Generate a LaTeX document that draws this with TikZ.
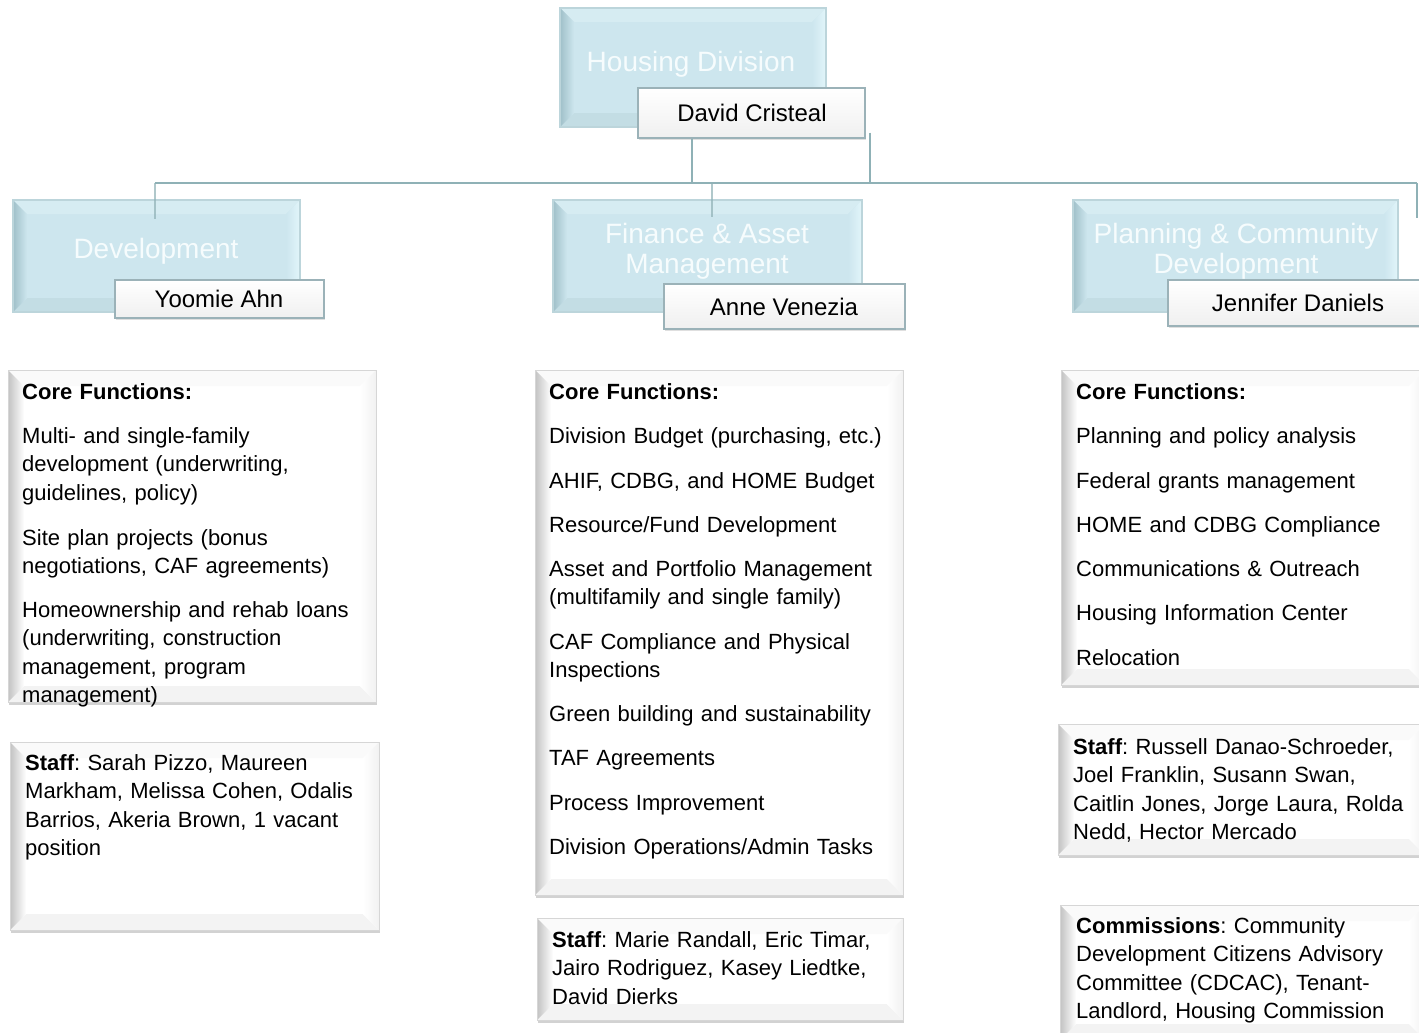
\documentclass[tikz,border=0pt]{standalone}
\usepackage{fontspec}
\setmainfont{Liberation Sans}
\usetikzlibrary{shadows}
\frenchspacing
\definecolor{conn}{HTML}{8FB1B6}
\definecolor{bluefill}{HTML}{CDE6EE}
\definecolor{blueedge}{HTML}{BCD5DB}
\definecolor{bluedark}{HTML}{A0C0C9}
\definecolor{bluetop}{HTML}{D6ECF2}
\definecolor{blueright}{HTML}{E2F5FA}
\definecolor{bluebot}{HTML}{C3DDE4}
\definecolor{namedraw}{HTML}{9BB2B8}
\definecolor{titlecol}{HTML}{F6FCFD}
\definecolor{wleft}{HTML}{C2C2C2}
\definecolor{wtop}{HTML}{FAFAFA}
\definecolor{wright}{HTML}{F1F1F1}
\definecolor{wbot}{HTML}{F3F3F3}
\tikzset{
  bevel/.style n args={6}{path picture={
    \path (path picture bounding box.north west) coordinate (pa)
          (path picture bounding box.north east) coordinate (pb)
          (path picture bounding box.south east) coordinate (pc)
          (path picture bounding box.south west) coordinate (pd);
    \fill[#3] (pa) -- (pb) -- ([shift={(-#6,-#6)}]pb) -- ([shift={(#6,-#6)}]pa) -- cycle;
    \fill[#5] (pd) -- (pc) -- ([shift={(-#6,#6)}]pc) -- ([shift={(#6,#6)}]pd) -- cycle;
    \shade[left color=#1, right color=#2] (pa) -- (pd) -- ([shift={(#6,#6)}]pd) -- ([shift={(#6,-#6)}]pa) -- cycle;
    \shade[left color=#2, right color=#4] (pb) -- (pc) -- ([shift={(-#6,#6)}]pc) -- ([shift={(-#6,-#6)}]pb) -- cycle;
  }},
  bluebox/.style={fill=bluefill, draw=blueedge, line width=2pt, inner sep=0pt,
    bevel={bluedark}{bluefill}{bluetop}{blueright}{bluebot}{14pt}},
  namebox/.style={draw=namedraw, line width=1.2pt, top color=white, bottom color=black!6,
    inner sep=0pt, drop shadow={opacity=0.25, shadow xshift=1pt, shadow yshift=-2pt}},
  whitebox/.style={fill=white, draw=black!16, line width=0.8pt, inner sep=0pt,
    drop shadow={opacity=0.35, shadow xshift=1pt, shadow yshift=-3pt},
    bevel={wleft}{white}{wtop}{wright}{wbot}{16pt}},
  conn/.style={draw=conn, line width=2.4pt},
  titletxt/.style={text=titlecol, align=center, inner sep=0pt, font=\fontsize{28}{30}\selectfont},
  nametxt/.style={text=black, inner sep=0pt, font=\fontsize{24}{28}\selectfont},
  txt/.style={anchor=base west, inner sep=0pt, text width=380pt, align=left,
    font=\fontsize{22}{28.5}\selectfont\frenchspacing},
}
\begin{document}
\begin{tikzpicture}[x=1pt,y=-1pt]
\useasboundingbox (0,0) rectangle (1419,1033);
\fill[white] (0,0) rectangle (1419,1033);

% connector coordinates
\coordinate (hl) at (155,183);
\coordinate (hr) at (1417,183);
\coordinate (j1) at (692,183);
\coordinate (j2) at (712,183);
\coordinate (j3) at (870,183);
\coordinate (r1) at (1417,218);

% top
\node[bluebox, minimum width=266pt, minimum height=119pt] (hd) at (693,67.5) {};
\node[titletxt] (hdT) at (691,64) {Housing Division};
\node[namebox, minimum width=227pt, minimum height=50pt] (dc) at (751.5,113) {};
\node[nametxt] (dcT) at (752,113) {David Cristeal};

% division boxes
\node[bluebox, minimum width=287pt, minimum height=112pt] (dev) at (156.5,256) {};
\node[bluebox, minimum width=309pt, minimum height=112pt] (fin) at (707.5,256) {};
\node[bluebox, minimum width=325pt, minimum height=112pt] (plan) at (1235.5,256) {};

% connectors
\draw[conn] (dc.south -| j1) -- (j1);
\draw[conn] (dc.south -| j3) ++(0,-6) -- (j3);
\draw[conn] (hl) -- (hr);
\draw[conn, draw opacity=0.7] (hl) -- (dev.north -| hl) -- ++(0,20);
\draw[conn, draw opacity=0.7] (j2) -- (fin.north -| j2) -- ++(0,18);
\draw[conn] (hr) -- (r1);

\node[titletxt] (devT) at (156,251) {Development};
\node[titletxt] (finT) at (707,251) {Finance \& Asset\\Management};
\node[titletxt] (planT) at (1236,251) {Planning \& Community\\Development};

\node[namebox, minimum width=209pt, minimum height=38pt] (ya) at (219.5,299) {};
\node[nametxt] (yaT) at (219,299) {Yoomie Ahn};
\node[namebox, minimum width=241pt, minimum height=45pt] (av) at (784.5,306.5) {};
\node[nametxt] (avT) at (784,306.5) {Anne Venezia};
\node[namebox, minimum width=254pt, minimum height=46pt] (jd) at (1295,303) {};
\node[nametxt] (jdT) at (1298,303) {Jennifer Daniels};

% text boxes
\node[whitebox, minimum width=368pt, minimum height=332pt] (lc) at (192,536) {};
\node[whitebox, minimum width=369pt, minimum height=188pt] (ls) at (194.5,836) {};
\node[whitebox, minimum width=368pt, minimum height=525pt] (mc) at (719,632.5) {};
\node[whitebox, minimum width=366pt, minimum height=102pt] (ms) at (720,969) {};
\node[whitebox, minimum width=364pt, minimum height=315pt] (rc) at (1243,527.5) {};
\node[whitebox, minimum width=367pt, minimum height=131pt] (rs) at (1241.5,789.5) {};
\node[whitebox, minimum width=365pt, minimum height=135pt] (rm) at (1242.5,972.5) {};

% left core
\node[txt] (lc0) at (22,399) {\textbf{Core Functions:}};
\node[txt] (lc1) at (22,443) {Multi- and single-family\\development (underwriting,\\guidelines, policy)};
\node[txt] (lc2) at (22,545) {Site plan projects (bonus\\negotiations, CAF agreements)};
\node[txt] (lc3) at (22,617) {Homeownership and rehab loans\\(underwriting, construction\\management, program\\management)};
\node[txt] (ls0) at (25,770) {\textbf{Staff}: Sarah Pizzo, Maureen\\Markham, Melissa Cohen, Odalis\\Barrios, Akeria Brown, 1 vacant\\position};

% middle core
\node[txt] (mc0) at (549,399) {\textbf{Core Functions:}};
\node[txt] (mc1) at (549,443) {Division Budget (purchasing, etc.)};
\node[txt] (mc2) at (549,488) {AHIF, CDBG, and HOME Budget};
\node[txt] (mc3) at (549,532) {Resource/Fund Development};
\node[txt] (mc4) at (549,576) {Asset and Portfolio Management\\(multifamily and single family)};
\node[txt] (mc5) at (549,649) {CAF Compliance and Physical\\Inspections};
\node[txt] (mc6) at (549,721) {Green building and sustainability};
\node[txt] (mc7) at (549,765) {TAF Agreements};
\node[txt] (mc8) at (549,810) {Process Improvement};
\node[txt] (mc9) at (549,854) {Division Operations/Admin Tasks};
\node[txt] (ms0) at (552,947) {\textbf{Staff}: Marie Randall, Eric Timar,\\Jairo Rodriguez, Kasey Liedtke,\\David Dierks};

% right core
\node[txt] (rc0) at (1076,399) {\textbf{Core Functions:}};
\node[txt] (rc1) at (1076,443) {Planning and policy analysis};
\node[txt] (rc2) at (1076,488) {Federal grants management};
\node[txt] (rc3) at (1076,532) {HOME and CDBG Compliance};
\node[txt] (rc4) at (1076,576) {Communications \& Outreach};
\node[txt] (rc5) at (1076,620) {Housing Information Center};
\node[txt] (rc6) at (1076,665) {Relocation};
\node[txt] (rs0) at (1073,754) {\textbf{Staff}: Russell Danao-Schroeder,\\Joel Franklin, Susann Swan,\\Caitlin Jones, Jorge Laura, Rolda\\Nedd, Hector Mercado};
\node[txt] (rm0) at (1076,933) {\textbf{Commissions}: Community\\Development Citizens Advisory\\Committee (CDCAC), Tenant-\\Landlord, Housing Commission};
\end{tikzpicture}
\end{document}
